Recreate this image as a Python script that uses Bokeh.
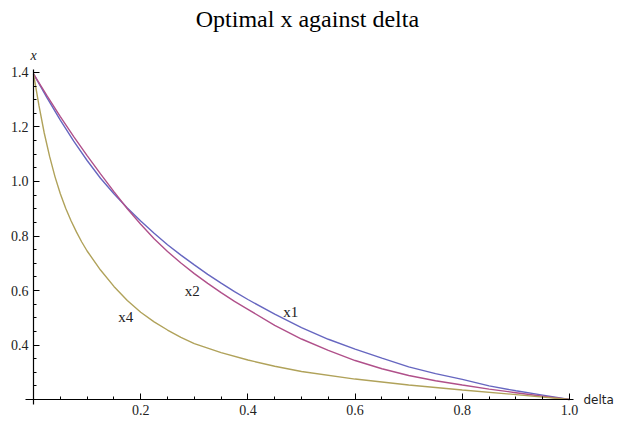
from bokeh.plotting import figure
from bokeh.models import FixedTicker, Label, PrintfTickFormatter
from bokeh.embed import file_html
from bokeh.resources import INLINE

# ---- data ----
delta = [0.0, 0.025, 0.05, 0.075, 0.1, 0.125, 0.15, 0.175, 0.2, 0.225, 0.25, 0.275, 0.3, 0.325,
         0.35, 0.375, 0.4, 0.45, 0.5, 0.55, 0.6, 0.65, 0.7, 0.75, 0.8, 0.85, 0.9, 0.95, 1.0]
x1 = [1.395, 1.308, 1.225, 1.148, 1.077, 1.012, 0.955, 0.903, 0.855, 0.810, 0.768, 0.730, 0.694, 0.659,
      0.627, 0.596, 0.567, 0.513, 0.464, 0.421, 0.385, 0.352, 0.320, 0.295, 0.274, 0.250, 0.232, 0.216, 0.200]
x2 = [1.395, 1.315, 1.238, 1.165, 1.095, 1.028, 0.963, 0.900, 0.843, 0.790, 0.743, 0.701, 0.662, 0.626,
      0.592, 0.560, 0.531, 0.472, 0.422, 0.380, 0.343, 0.313, 0.288, 0.269, 0.253, 0.238, 0.225, 0.212, 0.200]

delta4 = [0.0, 0.01, 0.02, 0.03, 0.04, 0.05, 0.06, 0.07, 0.08, 0.09, 0.1, 0.125, 0.15, 0.175, 0.2,
          0.225, 0.25, 0.275, 0.3, 0.35, 0.4, 0.45, 0.5, 0.6, 0.7, 0.8, 0.9, 1.0]
x4 = [1.395, 1.280, 1.178, 1.092, 1.018, 0.955, 0.902, 0.856, 0.815, 0.778, 0.745, 0.675, 0.615, 0.563, 0.520,
      0.485, 0.455, 0.428, 0.405, 0.372, 0.345, 0.322, 0.303, 0.275, 0.253, 0.235, 0.218, 0.200]

series_names = ["x1", "x2", "x4"]
label_pos = [(0.48, 0.521), (0.296, 0.598), (0.172, 0.503)]

x_major = [0.2, 0.4, 0.6, 0.8, 1.0]
x_minor = [0.05, 0.1, 0.15, 0.25, 0.3, 0.35, 0.45, 0.5, 0.55, 0.65, 0.7, 0.75, 0.85, 0.9, 0.95]
y_major = [0.4, 0.6, 0.8, 1.0, 1.2, 1.4]
y_minor = [0.25, 0.3, 0.35, 0.45, 0.5, 0.55, 0.65, 0.7, 0.75, 0.85, 0.9, 0.95,
           1.05, 1.1, 1.15, 1.25, 1.3, 1.35]

colors = ["#6666c0", "#b0508a", "#b0a25a"]

SERIF = "'Liberation Serif'"

# the frame covers the whole canvas; axes sit at fixed data locations inside it
p = figure(width=615, height=418, output_backend="svg", toolbar_location=None,
           x_range=(-0.0616, 1.0858), y_range=(0.1303, 1.6642),
           min_border_left=0, min_border_right=0, min_border_top=0, min_border_bottom=0)
p.title.visible = False
p.outline_line_color = None
p.grid.visible = False
p.background_fill_color = "white"
p.border_fill_color = "white"

p.line(delta, x1, line_color=colors[0], line_width=1.4)
p.line(delta, x2, line_color=colors[1], line_width=1.4)
p.line(delta4, x4, line_color=colors[2], line_width=1.4)

for ax in (p.xaxis[0], p.yaxis[0]):
    ax.axis_line_color = "black"
    ax.axis_line_width = 1.2
    ax.major_tick_line_color = "black"
    ax.minor_tick_line_color = "black"
    ax.major_tick_in = 6
    ax.major_tick_out = 0
    ax.minor_tick_in = 3
    ax.minor_tick_out = 0
    ax.major_label_text_font = SERIF
    ax.major_label_text_font_size = "14px"
    ax.major_label_text_color = "#222222"
    ax.major_label_standoff = 5
    ax.formatter = PrintfTickFormatter(format="%.1f")

p.xaxis[0].ticker = FixedTicker(ticks=x_major, minor_ticks=x_minor)
p.yaxis[0].ticker = FixedTicker(ticks=y_major, minor_ticks=y_minor)
p.xaxis[0].fixed_location = 0.2
p.yaxis[0].fixed_location = 0.0
p.xaxis[0].bounds = (-0.015, 1.0075)
p.yaxis[0].bounds = (0.18, 1.41)

# title and axis labels
p.add_layout(Label(x=0.511, y=1.598, text="Optimal x against delta", text_align="center",
                   text_baseline="middle", text_font=SERIF, text_font_size="24px",
                   text_color="black"))
p.add_layout(Label(x=0.0, y=1.4624, text="x", text_align="center", text_baseline="middle",
                   text_font=SERIF, text_font_style="italic", text_font_size="14px",
                   text_color="#222222"))
p.add_layout(Label(x=1.026, y=0.2, text="delta", text_align="left", text_baseline="middle",
                   text_font="'DejaVu Sans'", text_font_size="12px", text_color="#222222"))

for name, (lx, ly) in zip(series_names, label_pos):
    p.add_layout(Label(x=lx, y=ly, text=name, text_align="center", text_baseline="middle",
                       text_font=SERIF, text_font_size="15px", text_color="#222222"))

open("out.html", "w").write(file_html(p, INLINE))
